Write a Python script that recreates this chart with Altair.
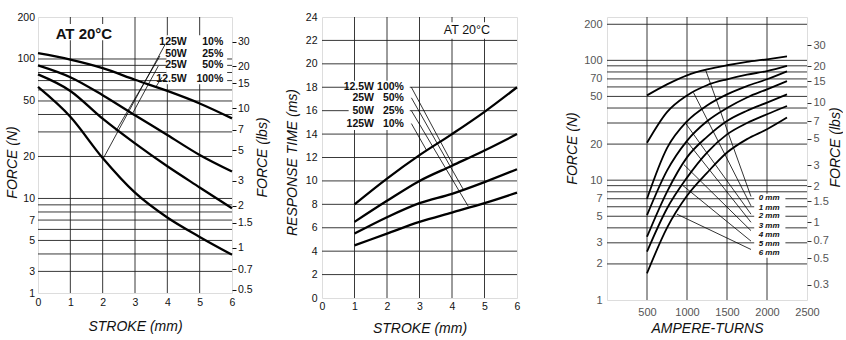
import altair as alt
import pandas as pd

N_PER_LBF = 4.448
FONT = "Liberation Sans"
NARROW = "Liberation Sans Narrow, Liberation Sans"

# ---------------- Panel 1 : FORCE vs STROKE ----------------
p1_stroke = [0, 1, 2, 3, 4, 5, 6]
p1_series = ["125W 10%", "50W 25%", "25W 50%", "12.5W 100%"]
p1_force_a = [110, 99, 86, 71, 59, 48, 37.5]
p1_force_b = [90, 74, 55, 39.5, 28.5, 20.5, 15.6]
p1_force_c = [77.5, 59, 37.3, 24.8, 17, 12, 8.5]
p1_force_d = [63, 38.5, 19.5, 11, 7.3, 5.3, 3.95]
p1_grid_y = [3, 4, 5, 6, 7, 8, 9, 10, 20, 30, 40, 50, 60, 70, 80, 90, 100]
p1_grid_x = [1, 2, 3, 4, 5]
p1_ticks_n = [2.1, 3, 5, 7, 10, 20, 50, 100, 200]
p1_ticks_lbs = [0.5, 0.7, 1, 1.5, 2, 3, 5, 7, 10, 15, 20, 30]
p1_label_watt = ["125W", "50W", "25W", "12.5W"]
p1_label_pct = ["10%", "25%", "50%", "100%"]
p1_label_y = [133, 109, 90, 72.4]
p1_leader_x1 = [3.93, 3.77, 3.72, 3.83]
p1_leader_y1 = [127, 105, 89, 73.7]
p1_leader_x2 = [2.02, 2.41, 2.92, 3.64]
p1_leader_y2 = [19.4, 30.5, 40.5, 62.8]

# ---------------- Panel 2 : RESPONSE TIME vs STROKE ----------------
p2_stroke = [1, 2, 3, 4, 5, 6]
p2_series = ["12.5W 100%", "25W 50%", "50W 25%", "125W 10%"]
p2_time_1 = [8.0, 10.2, 12.2, 14.0, 15.9, 18.0]
p2_time_2 = [6.5, 8.3, 10.0, 11.3, 12.6, 14.0]
p2_time_3 = [5.5, 6.9, 8.1, 8.9, 9.9, 11.0]
p2_time_4 = [4.5, 5.5, 6.5, 7.3, 8.1, 9.0]
p2_grid_y = [2, 4, 6, 8, 10, 12, 14, 16, 18, 20, 22]
p2_grid_x = [1, 2, 3, 4, 5]
p2_label_watt = ["12.5W", "25W", "50W", "125W"]
p2_label_pct = ["100%", "50%", "25%", "10%"]
p2_label_y = [18.0, 17.1, 16.0, 14.9]
p2_leader_x1 = [2.75, 2.75, 2.75, 2.75]
p2_leader_y1 = [18.0, 17.1, 16.0, 14.9]
p2_leader_x2 = [4.04, 4.35, 4.5, 3.22]
p2_leader_y2 = [11.3, 9.26, 7.83, 12.6]

# ---------------- Panel 3 : FORCE vs AMPERE-TURNS ----------------
p3_at = [500, 750, 1000, 1250, 1500, 1750, 2000, 2250]
p3_series = ["0 mm", "1 mm", "2 mm", "3 mm", "4 mm", "5 mm", "6 mm"]
p3_force_0 = [51, 63, 75, 84, 91, 97, 102, 108]
p3_force_1 = [20.5, 37, 51, 62, 69.5, 76, 81.4, 90]
p3_force_2 = [7.0, 18.5, 31, 42, 52, 61, 69.5, 81]
p3_force_3 = [5.1, 12, 21.3, 31, 40, 49, 57.3, 67]
p3_force_4 = [3.37, 8, 15.5, 23, 31.2, 38, 44.4, 52]
p3_force_5 = [2.53, 5.8, 10.5, 17, 24.1, 30, 35.5, 41.6]
p3_force_6 = [1.67, 4, 7.4, 11.5, 17, 22, 26.6, 33.3]
p3_grid_y = [2, 3, 4, 5, 6, 7, 8, 9, 10, 20, 30, 40, 50, 60, 70, 80, 90, 100, 200]
p3_grid_x = [500, 1000, 1500, 2000]
p3_ticks_n = [1, 2, 3, 5, 7, 10, 20, 50, 70, 100, 200]
p3_ticks_x = [500, 1000, 1500, 2000, 2500]
p3_ticks_lbs = [0.3, 0.5, 0.7, 1, 1.5, 2, 3, 5, 7, 10, 15, 20, 30]
p3_label_y = [7.08, 5.9, 5.0, 4.16, 3.48, 2.94, 2.45]
p3_leader_x1 = [1230, 1080, 980, 1000, 960, 950, 875]
p3_leader_y1 = [84, 54, 30, 21, 13.5, 9.0, 5.2]
p3_leader_x2 = [1800, 1800, 1800, 1800, 1800, 1800, 1800]
p3_leader_y2 = [7.3, 6.1, 5.2, 4.45, 3.79, 3.1, 2.64]


def long_df(xs, names, cols):
    rows = []
    for name, col in zip(names, cols):
        for x, v in zip(xs, col):
            rows.append({"x": x, "v": v, "s": name})
    return pd.DataFrame(rows)


def build_panel(xscale, yscale, xaxis, yaxis, curves, grid_x, grid_y, boxes,
                leaders, texts, right=None, curve_width=2.3):
    def X(field="x"):
        return alt.X(f"{field}:Q", scale=xscale, axis=xaxis)

    def Y(field="v"):
        return alt.Y(f"{field}:Q", scale=yscale, axis=yaxis)

    layers = []
    layers.append(alt.Chart(curves).mark_line(
        color="black", strokeWidth=curve_width, interpolate="monotone", opacity=0).encode(
        x=X(), y=Y(), detail="s:N"))
    layers.append(alt.Chart(pd.DataFrame({"v": grid_y})).mark_rule(
        color="#222", strokeWidth=0.9).encode(y=Y()))
    layers.append(alt.Chart(pd.DataFrame({"x": grid_x})).mark_rule(
        color="#222", strokeWidth=0.9).encode(x=X()))
    layers.append(alt.Chart(boxes).mark_rect(color="white").encode(
        x=X("x1"), x2="x2:Q", y=Y("y1"), y2="y2:Q"))
    layers.append(alt.Chart(curves).mark_line(
        color="black", strokeWidth=curve_width, interpolate="monotone").encode(
        x=X(), y=Y(), detail="s:N"))
    layers.append(alt.Chart(leaders).mark_rule(color="black", strokeWidth=0.8).encode(
        x=X("x1"), x2="x2:Q", y=Y("y1"), y2="y2:Q"))
    for df, kw in texts:
        layers.append(alt.Chart(df).mark_text(**kw).encode(
            x=X(), y=Y(), text="t:N"))
    inner = alt.layer(*layers)
    if right is None:
        return inner
    rdf, rscale, raxis = right
    rlayer = alt.Chart(rdf).mark_point(opacity=0).encode(
        y=alt.Y("lbs:Q", scale=rscale, axis=raxis))
    return alt.layer(inner, rlayer).resolve_scale(y="independent")


label_common = dict(labelFont=FONT, labelFontSize=10.5, labelColor="#111",
                    labelFlush=False, labelOverlap=False,
                    titleFont=FONT, titleFontSize=14, titleFontStyle="italic",
                    titleFontWeight="normal", titleColor="#111",
                    grid=False, domain=False)

# ---- panel 1
p1_h = 276
p1_x = alt.Scale(domain=[0, 6], nice=False, zero=False)
p1_y = alt.Scale(type="log", domain=[2.1, 200], nice=False)
p1_xaxis = alt.Axis(values=p1_stroke, format="d", ticks=False, labelPadding=4,
                    title="STROKE (mm)", titleY=33, titleBaseline="middle", **label_common)
p1_yaxis = alt.Axis(values=p1_ticks_n, ticks=False, labelPadding=3.5,
                    labelExpr="datum.value < 2.5 ? '1' : format(datum.value, 'd')",
                    title="FORCE (N)", titleAngle=270, titleX=-25.5, titleY=145,
                    titleBaseline="middle", titleAlign="center", **label_common)
p1_raxis = alt.Axis(orient="right", values=p1_ticks_lbs, format="~g", tickSize=4,
                    tickColor="#111", labelPadding=1.5, title="FORCE (lbs)",
                    titleAngle=270, titleX=30, titleY=140, titleBaseline="middle",
                    titleAlign="center", **label_common)
p1_rscale = alt.Scale(type="log", domain=[2.1 / N_PER_LBF, 200 / N_PER_LBF], nice=False)
p1_curves = long_df(p1_stroke, p1_series, [p1_force_a, p1_force_b, p1_force_c, p1_force_d])
p1_boxes = pd.DataFrame({"x1": [3.97, 0.6], "x2": [5.85, 2.25],
                         "y1": [66, 136], "y2": [148, 178]})
p1_leaders = pd.DataFrame({"x1": p1_leader_x1, "y1": p1_leader_y1,
                           "x2": p1_leader_x2, "y2": p1_leader_y2})
bold_lbl = dict(font=NARROW, fontSize=10.5, fontWeight="bold", baseline="middle",
                align="right", color="#111")
p1_texts = [
    (pd.DataFrame({"x": [4.6] * 4, "v": p1_label_y, "t": p1_label_watt}), bold_lbl),
    (pd.DataFrame({"x": [5.73] * 4, "v": p1_label_y, "t": p1_label_pct}), bold_lbl),
    (pd.DataFrame({"x": [1.42], "v": [150], "t": ["AT 20°C"]}),
     dict(font=FONT, fontSize=15, fontWeight="bold", baseline="middle",
          align="center", color="#111")),
]
panel1 = build_panel(p1_x, p1_y, p1_xaxis, p1_yaxis, p1_curves, p1_grid_x, p1_grid_y,
                     p1_boxes, p1_leaders, p1_texts,
                     right=(pd.DataFrame({"lbs": p1_ticks_lbs}), p1_rscale, p1_raxis)
                     ).properties(width=194, height=p1_h)

# ---- panel 2
p2_x = alt.Scale(domain=[0, 6], nice=False, zero=False)
p2_y = alt.Scale(domain=[0, 24], nice=False, zero=False)
p2_xaxis = alt.Axis(values=[0, 1, 2, 3, 4, 5, 6], format="d", ticks=False, labelPadding=3,
                    title="STROKE (mm)", titleY=30, titleBaseline="middle", **label_common)
p2_yaxis = alt.Axis(values=[0] + p2_grid_y + [24], format="d", ticks=False, labelPadding=5,
                    title="RESPONSE TIME (ms)", titleAngle=270, titleX=-29.5, titleY=145,
                    titleBaseline="middle", titleAlign="center", **label_common)
p2_curves = long_df(p2_stroke, p2_series, [p2_time_1, p2_time_2, p2_time_3, p2_time_4])
p2_boxes = pd.DataFrame({"x1": [0.82, 3.72], "x2": [2.7, 5.2],
                         "y1": [14.35, 22.15], "y2": [18.55, 23.55]})
p2_leaders = pd.DataFrame({"x1": p2_leader_x1, "y1": p2_leader_y1,
                           "x2": p2_leader_x2, "y2": p2_leader_y2})
p2_texts = [
    (pd.DataFrame({"x": [1.6] * 4, "v": p2_label_y, "t": p2_label_watt}), bold_lbl),
    (pd.DataFrame({"x": [2.52] * 4, "v": p2_label_y, "t": p2_label_pct}), bold_lbl),
    (pd.DataFrame({"x": [4.46], "v": [22.86], "t": ["AT 20°C"]}),
     dict(font=FONT, fontSize=12.5, baseline="middle", align="center", color="#111")),
]
panel2 = build_panel(p2_x, p2_y, p2_xaxis, p2_yaxis, p2_curves, p2_grid_x, p2_grid_y,
                     p2_boxes, p2_leaders, p2_texts).properties(width=195, height=281)

# ---- panel 3
gray_common = dict(label_common, labelColor="#555", labelFontSize=11)
p3_x = alt.Scale(domain=[0, 2500], nice=False, zero=False)
p3_y = alt.Scale(type="log", domain=[1, 230], nice=False)
p3_xaxis = alt.Axis(values=p3_ticks_x, format="d", ticks=False, labelPadding=6,
                    title="AMPERE-TURNS", titleY=28, titleBaseline="middle", **gray_common)
p3_yaxis = alt.Axis(values=p3_ticks_n, format="d", ticks=False, labelPadding=5,
                    title="FORCE (N)", titleAngle=270, titleX=-34.5, titleY=131,
                    titleBaseline="middle", titleAlign="center", **gray_common)
p3_raxis = alt.Axis(orient="right", values=p3_ticks_lbs, format="~g", tickSize=4,
                    tickColor="#333", labelPadding=2, title="FORCE (lbs)",
                    titleAngle=270, titleX=28, titleY=130, titleBaseline="middle",
                    titleAlign="center", **gray_common)
p3_rscale = alt.Scale(type="log", domain=[1 / N_PER_LBF, 230 / N_PER_LBF], nice=False)
p3_curves = long_df(p3_at, p3_series, [p3_force_0, p3_force_1, p3_force_2, p3_force_3,
                                       p3_force_4, p3_force_5, p3_force_6])
p3_boxes = pd.DataFrame({"x1": [1840], "x2": [2230], "y1": [2.25], "y2": [7.7]})
p3_leaders = pd.DataFrame({"x1": p3_leader_x1, "y1": p3_leader_y1,
                           "x2": p3_leader_x2, "y2": p3_leader_y2})
p3_texts = [
    (pd.DataFrame({"x": [1896] * 7, "v": p3_label_y, "t": p3_series}),
     dict(font=FONT, fontSize=8, fontWeight="bold", fontStyle="italic",
          baseline="middle", align="left", color="#111")),
]
panel3 = build_panel(p3_x, p3_y, p3_xaxis, p3_yaxis, p3_curves, p3_grid_x, p3_grid_y,
                     p3_boxes, p3_leaders, p3_texts,
                     right=(pd.DataFrame({"lbs": p3_ticks_lbs}), p3_rscale, p3_raxis),
                     curve_width=1.8).properties(width=200, height=283)

chart = alt.hconcat(panel1, panel2, panel3, spacing=90, bounds="flush").properties(
    padding={"left": 5, "top": 11, "right": 0, "bottom": 0}
).configure_view(stroke="black", strokeWidth=1.5).configure(font=FONT, background="white")

chart.save("out.html", embed_options={"renderer": "svg", "actions": False})
